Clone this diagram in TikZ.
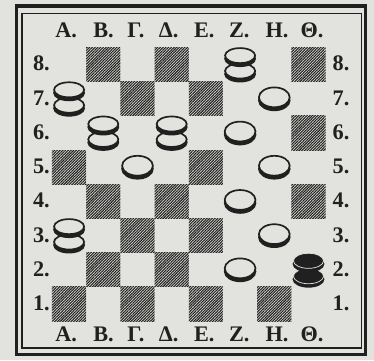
\documentclass[tikz,border=0pt]{standalone}
\usepackage{fontspec}
\setmainfont{Liberation Serif}
\usetikzlibrary{shapes.geometric,shadows,patterns.meta}
\definecolor{paper}{RGB}{226,226,222}
\definecolor{ink}{RGB}{32,32,32}

\begin{document}
\begin{tikzpicture}[
    font=\fontsize{18.5}{20}\selectfont\bfseries,
    dark/.style={
      minimum size=1cm, inner sep=0pt, outer sep=0pt,
      pattern={Lines[angle=45,distance=1.6pt,line width=0.9pt]},
      pattern color=ink
    },
    disc/.style={
      ellipse, draw=ink, line width=1.4pt, fill=paper, inner sep=0pt,
      minimum width=0.9cm, minimum height=0.58cm,
      general shadow={fill=ink, draw=ink, line width=1.4pt,
        shadow yshift=-0.09cm}
    },
    kdisc/.style={disc, minimum width=0.88cm, minimum height=0.44cm},
    bdisc/.style={kdisc, fill=ink, draw=paper, line width=0.6pt},
    frame/.style={draw=ink, inner sep=0pt},
    lbl/.style={inner sep=0pt, text=ink}
  ]
    % Paper (fixes the margins)
    \fill[paper] (-1.52,-1.14) rectangle (9.415,9.386);
    \useasboundingbox (-1.52,-1.14) rectangle (9.415,9.386);

    % Double border round the board
    \node[frame, line width=2.8pt, minimum width=10.205cm,
      minimum height=10.185cm] (outer) at (4.065,4.117) {};
    \node[frame, line width=1.1pt, minimum width=9.927cm,
      minimum height=9.78cm] (inner) at (4.087,4.1) {};

    % Empty dark squares (hatched)
    \foreach \s/\i/\j in {A1/0/0, C1/2/0, E1/4/0, G1/6/0,
        B2/1/1, D2/3/1, C3/2/2, E3/4/2,
        B4/1/3, D4/3/3, H4/7/3, A5/0/4, E5/4/4, H6/7/5,
        C7/2/6, E7/4/6, B8/1/7, D8/3/7, H8/7/7}
      \node[dark] (sq\s) at (\i+0.5,\j+0.5) {};

    % Column letters, top and bottom
    \foreach \g/\x [count=\n] in {Α./0.09, Β./1.2, Γ./2.2, Δ./3.12,
        Ε./4.15, Ζ./5.17, Η./6.24, Θ./7.26} {
      \node[lbl, anchor=base west] (top\n) at (\x,8.275) {\g};
      \node[lbl, anchor=base west] (bot\n) at (\x,-0.605) {\g};
    }

    % Row numbers, left and right
    \foreach \j in {1,...,8} {
      \node[lbl, anchor=base east] (left\j) at (-0.06,\j-0.69) {\j.};
      \node[lbl, anchor=base west] (right\j) at (8.2,\j-0.69) {\j.};
    }

    % White men
    \node[disc] (mG7) at (6.5,6.54) {};
    \node[disc] (mF6) at (5.5,5.54) {};
    \node[disc] (mC5) at (2.5,4.54) {};
    \node[disc] (mG5) at (6.5,4.54) {};
    \node[disc] (mF4) at (5.5,3.54) {};
    \node[disc] (mG3) at (6.5,2.54) {};
    \node[disc] (mF2) at (5.5,1.54) {};

    % White kings (two discs each)
    \foreach \s/\i/\j in {F8/5/7, A7/0/6, B6/1/5, D6/3/5, A3/0/2} {
      \node[kdisc] (k\s lo) at (\i+0.5,\j+0.31) {};
      \node[kdisc] (k\s hi) at (\i+0.5,\j+0.76) {};
    }

    % Black king
    \node[bdisc] (kH2lo) at (7.5,1.31) {};
    \node[bdisc] (kH2hi) at (7.5,1.76) {};
\end{tikzpicture}
\end{document}
